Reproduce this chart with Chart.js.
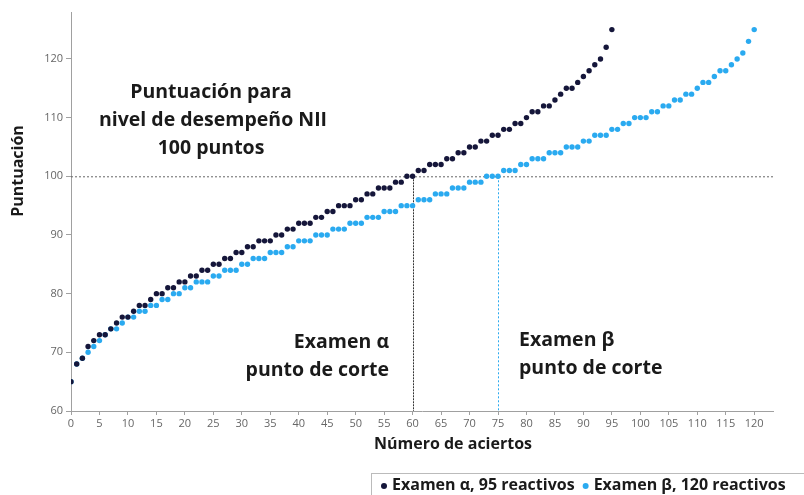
<!DOCTYPE html>
<html>
<head>
<meta charset="utf-8">
<script src="https://cdn.jsdelivr.net/npm/chart.js@4.4.0/dist/chart.umd.min.js"></script>
<style>
html, body { margin: 0; padding: 0; background: #fff; }
</style>
</head>
<body>
<canvas id="chart1" width="804" height="495"></canvas>
<script>
// puntuación por número de aciertos (índice = aciertos)
var puntajeAlfa = [65,68,69,71,72,73,73,74,75,76,76,77,78,78,79,80,80,81,81,82,
  82,83,83,84,84,85,85,86,86,87,87,88,88,89,89,89,90,90,91,91,
  92,92,92,93,93,94,94,95,95,95,96,96,97,97,98,98,98,99,99,100,
  100,101,101,102,102,102,103,103,104,104,105,105,106,106,107,107,108,108,109,109,
  110,111,111,112,112,113,114,115,115,116,117,118,119,120,122,125];
var puntajeBeta = [65,68,69,70,71,72,73,74,74,75,76,76,77,77,78,78,79,79,80,80,
  81,81,82,82,82,83,83,84,84,84,85,85,86,86,86,87,87,87,88,88,
  89,89,89,90,90,90,91,91,91,92,92,92,93,93,93,94,94,94,95,95,
  95,96,96,96,97,97,97,98,98,98,99,99,99,100,100,100,101,101,101,102,
  102,103,103,103,104,104,104,105,105,105,106,106,107,107,107,108,108,109,109,110,
  110,110,111,111,112,112,113,113,114,114,115,116,116,117,118,118,119,120,121,123,125];
var etiquetas = ['Examen α, 95 reactivos', 'Examen β, 120 reactivos'];
var colores = ['#15163a', '#2aaaf0'];
var nivelNII = 100;
var corteAlfa = 60;
var corteBeta = 75;
var ticksY = [60, 70, 80, 90, 100, 110, 120];

function puntos(arr) {
  return arr.map(function (v, i) { return { x: i, y: v }; });
}

var fuente = '"Open Sans", Lato, sans-serif';

var extras = {
  id: 'extras',
  beforeDatasetsDraw: function (chart) {
    var ctx = chart.ctx, x = chart.scales.x, y = chart.scales.y;
    var y100 = y.getPixelForValue(nivelNII);
    ctx.save();
    ctx.lineWidth = 1;
    ctx.setLineDash([2, 2]);
    ctx.strokeStyle = '#666';
    ctx.beginPath();
    ctx.moveTo(x.left, y100 + 0.5);
    ctx.lineTo(x.right + 2, y100 + 0.5);
    ctx.stroke();
    ctx.setLineDash([2, 1]);
    ctx.strokeStyle = '#333';
    var xa = Math.round(x.getPixelForValue(corteAlfa)) + 0.5;
    ctx.beginPath();
    ctx.moveTo(xa, y100);
    ctx.lineTo(xa, y.bottom);
    ctx.stroke();
    ctx.setLineDash([2, 2]);
    ctx.strokeStyle = colores[1];
    var xb = Math.round(x.getPixelForValue(corteBeta)) + 0.5;
    ctx.beginPath();
    ctx.moveTo(xb, y100);
    ctx.lineTo(xb, y.bottom);
    ctx.stroke();
    ctx.restore();
  },
  afterDraw: function (chart) {
    var ctx = chart.ctx;
    ctx.save();
    ctx.fillStyle = '#1a1a1a';
    ctx.textBaseline = 'middle';

    // anotaciones
    ctx.font = 'bold 19.5px ' + fuente;
    ctx.textAlign = 'center';
    ctx.fillText('Puntuación para', 211, 92);
    ctx.fillText('nivel de desempeño NII', 213, 120);
    ctx.fillText('100 puntos', 211, 148);
    ctx.textAlign = 'right';
    ctx.fillText('Examen α', 389, 342);
    ctx.fillText('punto de corte', 389, 370);
    ctx.textAlign = 'left';
    ctx.fillText('Examen β', 519, 340);
    ctx.fillText('punto de corte', 519, 368);

    // títulos de ejes
    ctx.font = 'bold 16px ' + fuente;
    ctx.textAlign = 'center';
    ctx.fillText('Número de aciertos', 453, 444);
    ctx.translate(18, 171);
    ctx.rotate(-Math.PI / 2);
    ctx.fillText('Puntuación', 0, 0);
    ctx.restore();

    // leyenda
    ctx.save();
    ctx.strokeStyle = '#bbb';
    ctx.lineWidth = 1;
    ctx.strokeRect(371.5, 473.5, 440, 30);
    ctx.font = 'bold 16px ' + fuente;
    ctx.textBaseline = 'middle';
    ctx.textAlign = 'left';
    var lx = 384;
    for (var i = 0; i < etiquetas.length; i++) {
      ctx.fillStyle = colores[i];
      ctx.beginPath();
      ctx.arc(lx, 486, 3, 0, Math.PI * 2);
      ctx.fill();
      ctx.fillStyle = '#1a1a1a';
      ctx.fillText(etiquetas[i], lx + 8, 485);
      lx += 8 + ctx.measureText(etiquetas[i]).width + 11;
    }
    ctx.restore();
  }
};

var ctx = document.getElementById('chart1').getContext('2d');
var chartPuntos = new Chart(ctx, {
  type: 'scatter',
  data: {
    datasets: [{
      label: etiquetas[0],
      data: puntos(puntajeAlfa),
      backgroundColor: colores[0],
      borderColor: colores[0],
      pointRadius: 2.7,
      pointBorderWidth: 0
    }, {
      label: etiquetas[1],
      data: puntos(puntajeBeta),
      backgroundColor: colores[1],
      borderColor: colores[1],
      pointRadius: 2.7,
      pointBorderWidth: 0
    }]
  },
  options: {
    responsive: false,
    animation: false,
    layout: { padding: { top: 12, right: 31, left: 0, bottom: 0 } },
    plugins: {
      legend: { display: false },
      tooltip: { enabled: false }
    },
    scales: {
      x: {
        type: 'linear',
        min: 0,
        max: 123.3,
        afterFit: function (s) { s.height = 84; },
        border: { color: '#a0a0a0' },
        grid: { drawOnChartArea: false, tickLength: 4, color: '#a0a0a0' },
        ticks: { stepSize: 5, includeBounds: false, maxRotation: 0, padding: 2, color: '#666',
          font: { family: fuente, size: 11 } }
      },
      y: {
        min: 60,
        max: 128,
        afterFit: function (s) { s.width = 71; },
        afterBuildTicks: function (s) { s.ticks = ticksY.map(function (v) { return { value: v }; }); },
        border: { color: '#a0a0a0' },
        grid: { drawOnChartArea: false, tickLength: 5, color: '#a0a0a0' },
        ticks: { padding: 3, color: '#666', font: { family: fuente, size: 11 } }
      }
    }
  },
  plugins: [extras]
});
</script>
</body>
</html>
